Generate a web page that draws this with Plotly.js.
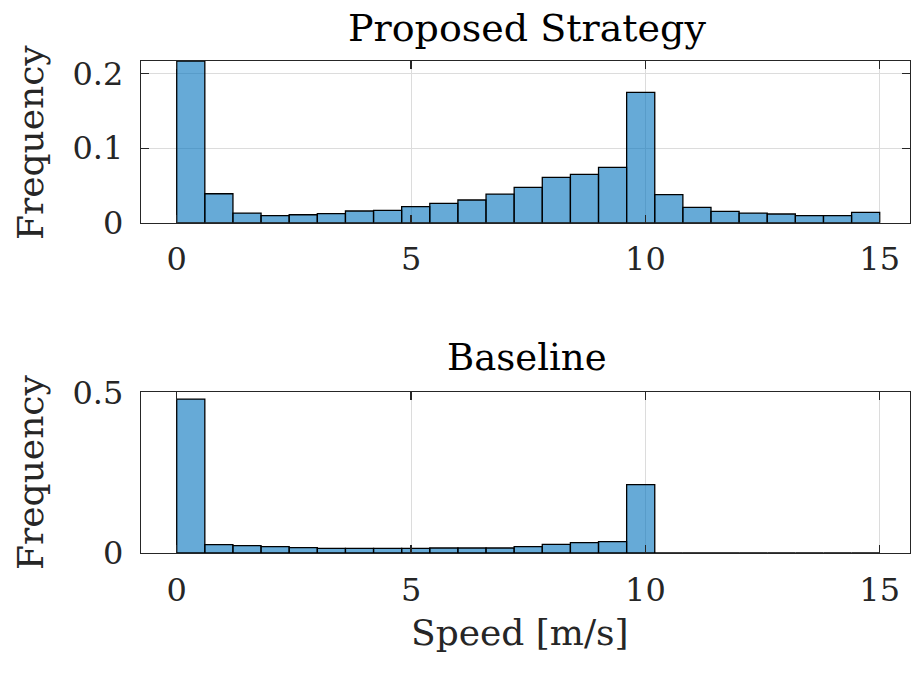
<!DOCTYPE html>
<html>
<head>
<meta charset="utf-8">
<script src="https://cdn.plot.ly/plotly-3.0.1.min.js"></script>
<style>
html,body{margin:0;padding:0;background:#fff;}
#chart{width:915px;height:674px;}
</style>
</head>
<body>
<div id="chart"></div>
<script>
// Bin left edges (bin width 0.6 m/s, 0..15)
const binEdges = [0,0.6,1.2,1.8,2.4,3.0,3.6,4.2,4.8,5.4,6.0,6.6,7.2,7.8,8.4,9.0,9.6,10.2,10.8,11.4,12.0,12.6,13.2,13.8,14.4];
const binWidth = 0.6;

// Frequencies
const proposedFreq = [0.217,0.0389,0.0130,0.0094,0.0107,0.0121,0.0157,0.0166,0.0215,0.0260,0.0305,0.0385,0.0475,0.0609,0.0650,0.0743,0.1750,0.0376,0.0206,0.0153,0.0130,0.0117,0.0094,0.0094,0.0139];
const baselineFreq = [0.479,0.0259,0.0228,0.0197,0.0166,0.0145,0.0145,0.0145,0.0145,0.0156,0.0156,0.0156,0.0197,0.0270,0.0322,0.0353,0.2125,0,0,0,0,0,0,0,0];

const xTicks = [0,5,10,15];
const yTicksTop = [0,0.1,0.2];
const yTicksBottom = [0,0.5];

const FONT = 'DejaVu Serif';
const TXT = '#262626';
const barStyle = {color:'rgba(0,114,189,0.6)', line:{color:'#000000', width:1.3}};

const traces = [
  {type:'bar', x:binEdges, y:proposedFreq, width:binWidth, offset:0, marker:barStyle, xaxis:'x', yaxis:'y', hoverinfo:'x+y'},
  {type:'bar', x:binEdges, y:baselineFreq, width:binWidth, offset:0, marker:barStyle, xaxis:'x2', yaxis:'y2', hoverinfo:'x+y'}
];

const axCommon = {
  showline:true, mirror:'allticks', linecolor:TXT, linewidth:1.3,
  ticks:'inside', ticklen:8, tickwidth:1.3, tickcolor:TXT,
  showgrid:true, gridcolor:'#dcdcdc', gridwidth:1, zeroline:false,
  tickfont:{family:FONT, size:32, color:TXT}
};
const xRange = [-0.762, 15.646];

const layout = {
  width:915, height:674,
  margin:{l:141, r:5, t:61, b:121},
  paper_bgcolor:'#ffffff', plot_bgcolor:'#ffffff',
  showlegend:false, bargap:0,
  xaxis: Object.assign({}, axCommon, {domain:[0,1], range:xRange, tickvals:xTicks, anchor:'y', ticklabelstandoff:8}),
  yaxis: Object.assign({}, axCommon, {domain:[0.6713,1], range:[0,0.217], tickvals:yTicksTop, anchor:'x', ticklabelstandoff:10}),
  xaxis2: Object.assign({}, axCommon, {domain:[0,1], range:xRange, tickvals:xTicks, anchor:'y2', ticklabelstandoff:8}),
  yaxis2: Object.assign({}, axCommon, {domain:[0,0.3266], range:[0,0.5], tickvals:yTicksBottom, anchor:'x2', ticklabelstandoff:10}),
  annotations:[
    {text:'Proposed Strategy', xref:'paper', yref:'paper', x:0.502, y:1.067, showarrow:false, xanchor:'center', yanchor:'middle', font:{family:FONT, size:38, color:'#000'}},
    {text:'Baseline', xref:'paper', yref:'paper', x:0.502, y:0.398, showarrow:false, xanchor:'center', yanchor:'middle', font:{family:FONT, size:37, color:'#000'}},
    {text:'Frequency', xref:'paper', yref:'paper', x:-0.1445, y:0.835, textangle:-90, showarrow:false, xanchor:'center', yanchor:'middle', font:{family:FONT, size:36, color:TXT}},
    {text:'Frequency', xref:'paper', yref:'paper', x:-0.1445, y:0.1646, textangle:-90, showarrow:false, xanchor:'center', yanchor:'middle', font:{family:FONT, size:36, color:TXT}},
    {text:'Speed [m/s]', xref:'paper', yref:'paper', x:0.493, y:-0.1606, showarrow:false, xanchor:'center', yanchor:'middle', font:{family:FONT, size:36, color:TXT}}
  ]
};

Plotly.newPlot('chart', traces, layout, {displayModeBar:false, staticPlot:true});
</script>
</body>
</html>
